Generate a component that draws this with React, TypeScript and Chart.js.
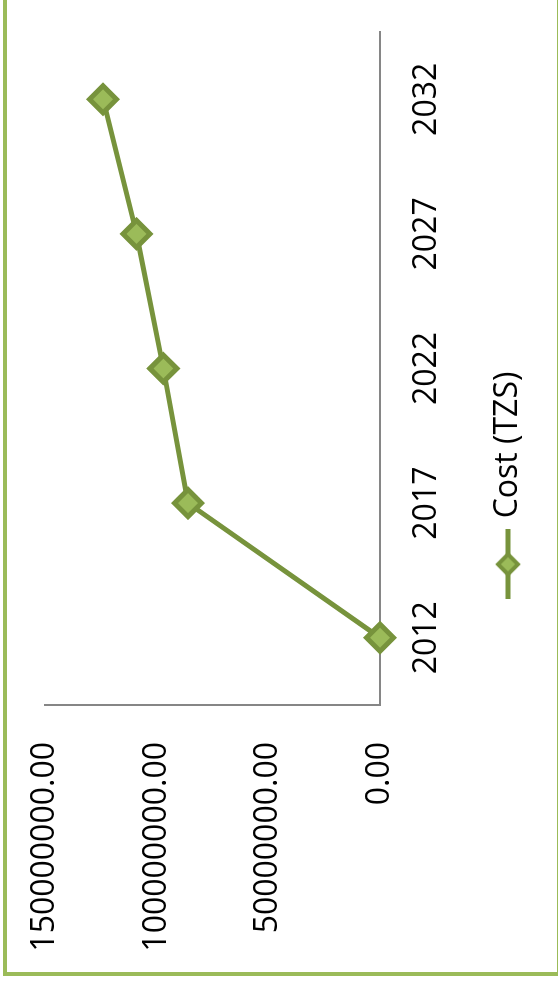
import { useEffect, useRef } from "react";
import { Chart, registerables } from "chart.js";

Chart.register(...registerables);

// Data
const years = ["2012", "2017", "2022", "2027", "2032"];
const costTZS = [0, 86000000, 97000000, 109000000, 124000000];
const seriesName = "Cost (TZS)";
const valueMin = 0;
const valueMax = 150000000;
const valueStep = 50000000;

// Style
const LINE = "#77933C";
const FILL = "#9BBB59";
const AXIS = "#868686";
const FONT = "'Open Sans', 'Noto Sans', sans-serif";

// Legend key: short line with a diamond marker in the middle
function legendSymbol(): HTMLCanvasElement {
  const c = document.createElement("canvas");
  c.width = 70;
  c.height = 30;
  const ctx = c.getContext("2d")!;
  const cx = 35;
  const cy = 15;
  const r = 10;
  ctx.strokeStyle = LINE;
  ctx.lineWidth = 5;
  ctx.beginPath();
  ctx.moveTo(0, cy);
  ctx.lineTo(70, cy);
  ctx.stroke();
  ctx.beginPath();
  ctx.moveTo(cx - r, cy);
  ctx.lineTo(cx, cy - r);
  ctx.lineTo(cx + r, cy);
  ctx.lineTo(cx, cy + r);
  ctx.closePath();
  ctx.fillStyle = FILL;
  ctx.fill();
  ctx.lineWidth = 4;
  ctx.stroke();
  return c;
}

export default function App() {
  const ref = useRef<HTMLCanvasElement>(null);

  useEffect(() => {
    const canvas = ref.current;
    if (!canvas) return;
    const symbol = legendSymbol();
    const chart = new Chart(canvas, {
      type: "line",
      data: {
        labels: years,
        datasets: [
          {
            label: seriesName,
            data: costTZS,
            borderColor: LINE,
            borderWidth: 5,
            backgroundColor: FILL,
            pointStyle: "rectRot",
            pointRadius: 13.5,
            pointHoverRadius: 13.5,
            pointBorderWidth: 5,
            pointBackgroundColor: FILL,
            pointBorderColor: LINE,
            tension: 0,
            clip: false,
          },
        ],
      },
      options: {
        responsive: false,
        animation: false,
        devicePixelRatio: 1,
        events: [],
        layout: { padding: { left: 0, right: 0, top: 38, bottom: 23 } },
        plugins: {
          tooltip: { enabled: false },
          legend: {
            position: "bottom",
            labels: {
              color: "#000",
              font: { family: FONT, size: 32 },
              usePointStyle: true,
              pointStyleWidth: 60,
              boxHeight: 32,
              generateLabels(ch) {
                const items = Chart.defaults.plugins.legend.labels.generateLabels(ch);
                items.forEach((it) => {
                  it.pointStyle = symbol as any;
                });
                return items;
              },
            },
          },
        },
        scales: {
          x: {
            type: "category",
            offset: true,
            grid: { display: false, drawTicks: false },
            border: { display: true, color: AXIS, width: 2 },
            ticks: {
              color: "#000",
              font: { family: FONT, size: 32 },
              padding: 28,
              maxRotation: 0,
              autoSkip: false,
            },
            afterFit(scale) {
              scale.height = 102;
            },
          },
          y: {
            min: valueMin,
            max: valueMax,
            // invisible tick marks hold the gap between labels and the axis line
            grid: {
              display: false,
              drawOnChartArea: false,
              drawTicks: true,
              tickLength: 37,
              tickColor: "rgba(0,0,0,0)",
            },
            border: { display: true, color: AXIS, width: 2 },
            ticks: {
              stepSize: valueStep,
              color: "#000",
              font: { family: FONT, size: 32 },
              padding: 0,
              callback: (v) => Number(v).toFixed(2),
            },
            afterFit(scale) {
              scale.width = 267;
            },
          },
          // empty margin on the right of the plot
          yRight: {
            position: "right",
            grid: { display: false, drawTicks: false },
            border: { display: false },
            ticks: { display: false },
            afterFit(scale) {
              scale.width = 38;
            },
          },
        },
      },
    });
    return () => chart.destroy();
  }, []);

  return (
    <div
      style={{
        position: "fixed",
        left: 0,
        top: 0,
        width: 558,
        height: 997,
        overflow: "hidden",
        background: "#fff",
      }}
    >
      <div
        style={{
          position: "absolute",
          left: 0,
          top: 0,
          width: 997,
          height: 558,
          transformOrigin: "0 0",
          transform: "translate(0px, 997px) rotate(-90deg)",
        }}
      >
        <div
          style={{
            position: "absolute",
            left: 21,
            top: 3,
            width: 978,
            height: 550,
            border: `4px solid ${FILL}`,
            background: "#fff",
          }}
        >
          <canvas ref={ref} width={978} height={550} style={{ display: "block" }} />
        </div>
      </div>
    </div>
  );
}
